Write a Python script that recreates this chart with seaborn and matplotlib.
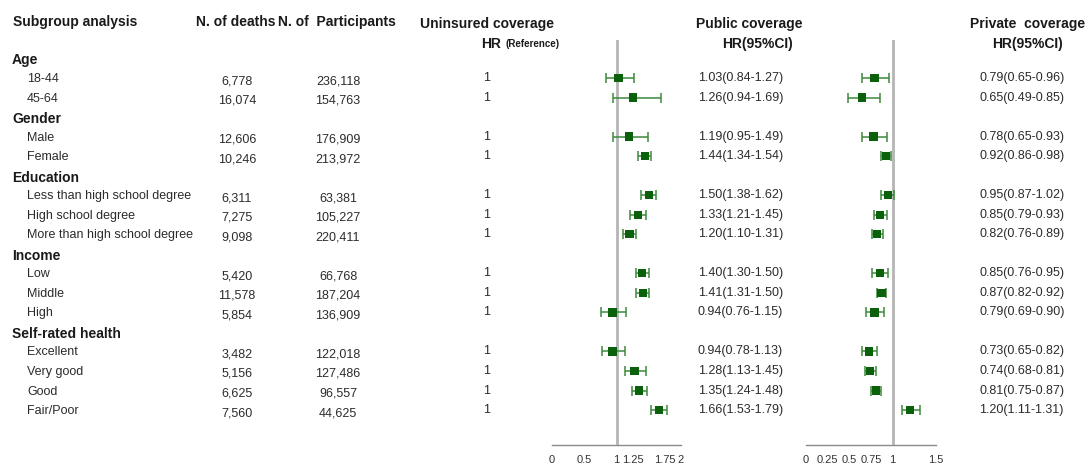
import numpy as np
import pandas as pd
import seaborn as sns
import matplotlib.pyplot as plt

# data
groups = ["Age", "Gender", "Education", "Income", "Self-rated health"]
subgroups = [["18-44", "45-64"],
             ["Male", "Female"],
             ["Less than high school degree", "High school degree", "More than high school degree"],
             ["Low", "Middle", "High"],
             ["Excellent", "Very good", "Good", "Fair/Poor"]]
deaths = ["6,778", "16,074", "12,606", "10,246", "6,311", "7,275", "9,098",
          "5,420", "11,578", "5,854", "3,482", "5,156", "6,625", "7,560"]
participants = ["236,118", "154,763", "176,909", "213,972", "63,381", "105,227", "220,411",
                "66,768", "187,204", "136,909", "122,018", "127,486", "96,557", "44,625"]
pub_hr = [1.03, 1.26, 1.19, 1.44, 1.50, 1.33, 1.20, 1.40, 1.41, 0.94, 0.94, 1.28, 1.35, 1.66]
pub_lo = [0.84, 0.94, 0.95, 1.34, 1.38, 1.21, 1.10, 1.30, 1.31, 0.76, 0.78, 1.13, 1.24, 1.53]
pub_hi = [1.27, 1.69, 1.49, 1.54, 1.62, 1.45, 1.31, 1.50, 1.50, 1.15, 1.13, 1.45, 1.48, 1.79]
priv_hr = [0.79, 0.65, 0.78, 0.92, 0.95, 0.85, 0.82, 0.85, 0.87, 0.79, 0.73, 0.74, 0.81, 1.20]
priv_lo = [0.65, 0.49, 0.65, 0.86, 0.87, 0.79, 0.76, 0.76, 0.82, 0.69, 0.65, 0.68, 0.75, 1.11]
priv_hi = [0.96, 0.85, 0.93, 0.98, 1.02, 0.93, 0.89, 0.95, 0.92, 0.90, 0.82, 0.81, 0.87, 1.31]
pub_ticks = [0, 0.5, 1, 1.25, 1.5, 1.75, 2]
pub_ticklabels = ["0", "0.5", "1", "1.25", "", "1.75", "2"]
priv_ticks = [0, 0.25, 0.5, 0.75, 1, 1.5]
priv_ticklabels = ["0", "0.25", "0.5", "0.75", "1", "1.5"]

sns.set_style("white")
plt.rcParams['font.family'] = ['Liberation Sans', 'DejaVu Sans']

W, H = 1091, 463
fig = plt.figure(figsize=(W / 100, H / 100), dpi=100)
TXT = "#1a1a1a"

def put(x, y, s, **kw):
    kw.setdefault("color", TXT)
    kw.setdefault("va", "center")
    fig.text(x / W, 1 - y / H, s, **kw)

# row layout (pixels)
Y0, DY = 58.5, 19.53
def row_y(r):
    return Y0 + DY * r

# build table of rows
rows, header_rows = [], []
r = 0
for g, subs in zip(groups, subgroups):
    header_rows.append((g, r))
    r += 1
    for s in subs:
        rows.append((s, r))
        r += 1
df = pd.DataFrame({"label": [s for s, _ in rows], "row": [i for _, i in rows],
                   "deaths": deaths, "participants": participants,
                   "pub_hr": pub_hr, "pub_lo": pub_lo, "pub_hi": pub_hi,
                   "priv_hr": priv_hr, "priv_lo": priv_lo, "priv_hi": priv_hi})

# headers
put(13, 22, "Subgroup analysis", fontsize=10, fontweight="bold")
put(196, 22, "N. of deaths", fontsize=10, fontweight="bold")
put(278, 22, "N. of  Participants", fontsize=10, fontweight="bold")
put(420, 24, "Uninsured coverage", fontsize=10, fontweight="bold")
put(481, 44, "HR", fontsize=10, fontweight="bold")
put(505, 44, "(Reference)", fontsize=7, fontweight="bold")
put(696, 24, "Public coverage", fontsize=10, fontweight="bold")
put(722, 44, "HR(95%CI)", fontsize=10, fontweight="bold")
put(970, 24, "Private  coverage", fontsize=10, fontweight="bold")
put(992, 44, "HR(95%CI)", fontsize=10, fontweight="bold")

for g, i in header_rows:
    put(12, row_y(i) + 2, g, fontsize=10, fontweight="bold")

REG = "#2b2b2b"
for _, d in df.iterrows():
    y = row_y(d["row"])
    put(27, y + 1, d["label"], fontsize=9, color=REG)
    put(237, y + 3, d["deaths"], fontsize=9, ha="center", color=REG)
    put(338, y + 3, d["participants"], fontsize=9, ha="center", color=REG)
    put(487, y, "1", fontsize=9, ha="center", color=REG)
    put(698, y, f"{d['pub_hr']:.2f}({d['pub_lo']:.2f}-{d['pub_hi']:.2f})", fontsize=9, color=REG)
    put(979, y, f"{d['priv_hr']:.2f}({d['priv_lo']:.2f}-{d['priv_hi']:.2f})", fontsize=9, color=REG)

# forest panels
top_px, bot_px = 40, 445
ylim = ((bot_px - Y0) / DY, (top_px - Y0) / DY)

def forest(x0, x1, xmax, key, ticks, ticklabels):
    ax = fig.add_axes([x0 / W, (H - bot_px) / H, (x1 - x0) / W, (bot_px - top_px) / H])
    ax.patch.set_visible(False)
    ax.axvline(1, color="#b5b5b5", lw=2, zorder=1)
    ax.errorbar(df[key + "_hr"], df["row"],
                xerr=[df[key + "_hr"] - df[key + "_lo"], df[key + "_hi"] - df[key + "_hr"]],
                fmt="none", ecolor="#3c8a3c", elinewidth=1.1, capsize=3.5, capthick=1.1, zorder=2)
    sns.scatterplot(data=df, x=key + "_hr", y="row", marker="s", s=36, color="#0b610b",
                    edgecolor="none", ax=ax, zorder=3)
    ax.set_xlim(0, xmax)
    ax.set_ylim(*ylim)
    ax.set_xlabel("")
    ax.set_ylabel("")
    ax.set_yticks([])
    for sp in ["top", "left", "right"]:
        ax.spines[sp].set_visible(False)
    ax.spines["bottom"].set_color("#8a8a8a")
    ax.spines["bottom"].set_linewidth(1)
    ax.set_xticks(ticks)
    ax.set_xticklabels(ticklabels)
    ax.tick_params(axis="x", direction="in", length=5, width=1, color="#8a8a8a",
                   labelsize=8, labelcolor="#333333", pad=7)
    return ax

forest(552, 681, 2, "pub", pub_ticks, pub_ticklabels)
forest(806, 936, 1.5, "priv", priv_ticks, priv_ticklabels)

fig.savefig("out.png", dpi=100)
